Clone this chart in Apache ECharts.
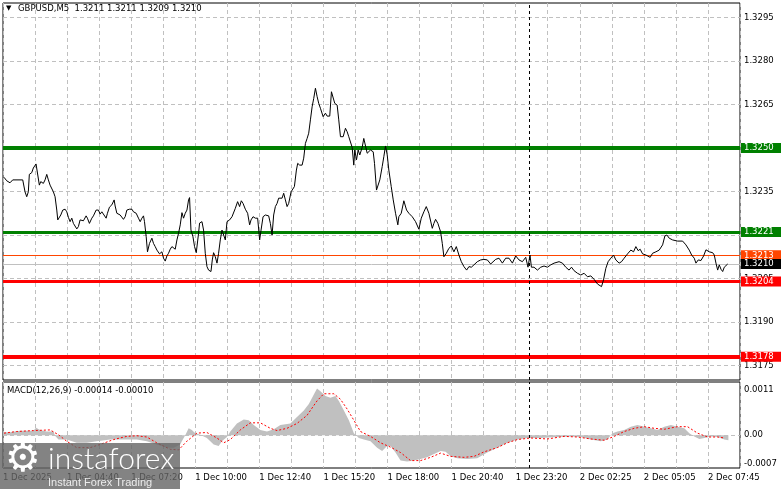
<!DOCTYPE html>
<html><head><meta charset="utf-8">
<script src="https://cdn.jsdelivr.net/npm/echarts@6/dist/echarts.min.js"></script>
<style>html,body{margin:0;padding:0;background:#fff}#c{width:781px;height:489px}</style>
</head><body><div id="c"></div>
<script>
// ---- data ----
const symbolTitle = 'GBPUSD,M5  1.3211 1.3211 1.3209 1.3210';
const macdTitle = 'MACD(12,26,9) -0.00014 -0.00010';
const timeLabels = ['1 Dec 2025','1 Dec 04:40','1 Dec 07:20','1 Dec 10:00','1 Dec 12:40','1 Dec 15:20','1 Dec 18:00','1 Dec 20:40','1 Dec 23:20','2 Dec 02:25','2 Dec 05:05','2 Dec 07:45'];
const barsPerLabel = 32;
const totalBars = 368;
const separatorBar = 263;
const priceLabels = [1.3175,1.3190,1.3205,1.3220,1.3235,1.3250,1.3265,1.3280,1.3295];
const macdLabels = [0.0011, 0.00, -0.0007];

const closeBar = [0,1.35,3,4.35,9.35,10.5,11.35,12.15,12.65,13.85,14.65,16,16.65,17.65,18.35,19.65,20.5,21.35,22.15,23,23.85,24.65,25.5,26.35,26.85,27.65,28.35,29.35,30.5,31.35,32.15,33,33.85,34.65,35.5,36.35,37.15,38,38.85,39.65,41,41.65,42.65,43.85,44.65,46,47.15,48,48.85,49.65,51,51.65,52.65,53.85,55,55.5,56.35,57.15,58,58.85,59.65,60.5,61.35,62.65,63.85,64.65,66,67.15,68,68.85,69.65,70.15,71,71.65,72.65,73.85,74.65,75.5,76.35,77.65,78.85,79.65,80.5,81.35,82.15,83,83.85,84.65,85.5,86.35,87.15,88,88.85,89.65,90.5,91.35,92.15,92.65,93.35,94.35,95.15,96,97.15,97.65,98.85,99.65,100.5,101.35,102.15,103.35,104,104.65,105.5,106.35,107.15,108,108.85,109.65,110.5,111.35,112.65,113.85,114.65,115.5,116.65,117.65,118.5,119.35,120.5,121.65,122.65,123.35,124.35,125.5,126.65,127.65,128.35,129.35,130.5,132.15,133,133.85,134.65,135.5,136.35,137.15,138,138.85,139.65,140.5,141.35,142.15,143.35,144.15,145,146,146.65,147.65,148.85,149.65,150.5,151.35,152.15,153,153.85,154.65,155.5,156.35,157.15,158,159.35,160.5,161.35,162.65,163.5,164.35,165.15,166.35,167.15,168,169.35,170.5,171.35,172.15,173,173.85,174.65,175.15,176,176.85,177.65,178.85,179.65,180.5,181.35,182.15,183,184.35,185,186,186.65,187.65,188.85,189.65,190.5,191.35,192.15,193.35,194.35,195.5,196.65,197.15,198.35,199.65,201,202.15,203.85,205.5,207.15,208.35,209.65,210.85,212.15,213.85,214.65,215.5,216.65,218,218.85,219.65,220.85,222.15,223.35,224.65,225.85,227.15,228.35,229.65,231,232.15,233.35,234.65,236.35,238,239.65,241.35,243,245.5,247.15,248.85,250.5,252.15,253.85,255.5,257.15,258.85,260.5,261.65,262.65,263.35,264.65,266.35,268,269.65,271.35,273,274.65,277.15,278.85,280.5,282.15,283.35,284.65,286.35,288,289.65,291.35,293,294.65,296.35,298.35,299.35,300.5,301.65,303,304.35,305.5,307.15,308.35,309.65,311.35,313,314.35,315.5,316.65,317.65,318.85,320.5,322.65,323.85,325.5,327.15,328.85,330,331,332.15,333.85,336.35,338.85,340.5,342.15,343.35,344.65,345.5,346.65,348,349.35,350.5,352.15,353.85,354.65,355.5,356.35,357.15,358,358.85,359.65,361.35];
const closeVal = [1.32399,1.32387,1.32380,1.32390,1.32390,1.32349,1.32332,1.32349,1.32409,1.32415,1.32431,1.32445,1.32447,1.32372,1.32384,1.32378,1.32390,1.32409,1.32390,1.32372,1.32367,1.32349,1.32332,1.32286,1.32252,1.32252,1.32269,1.32286,1.32289,1.32280,1.32261,1.32246,1.32258,1.32240,1.32235,1.32221,1.32229,1.32252,1.32258,1.32249,1.32266,1.32258,1.32240,1.32258,1.32266,1.32286,1.32286,1.32272,1.32280,1.32280,1.32258,1.32275,1.32296,1.32304,1.32321,1.32300,1.32275,1.32280,1.32269,1.32263,1.32254,1.32263,1.32286,1.32289,1.32289,1.32280,1.32275,1.32258,1.32246,1.32258,1.32266,1.32246,1.32194,1.32142,1.32171,1.32189,1.32171,1.32160,1.32148,1.32135,1.32142,1.32120,1.32110,1.32128,1.32137,1.32151,1.32160,1.32166,1.32151,1.32183,1.32206,1.32235,1.32277,1.32258,1.32275,1.32286,1.32321,1.32329,1.32217,1.32194,1.32160,1.32139,1.32206,1.32241,1.32246,1.32217,1.32137,1.32091,1.32079,1.32074,1.32114,1.32139,1.32125,1.32103,1.32137,1.32183,1.32217,1.32215,1.32183,1.32246,1.32252,1.32263,1.32269,1.32292,1.32315,1.32298,1.32318,1.32309,1.32289,1.32275,1.32235,1.32252,1.32263,1.32258,1.32258,1.32183,1.32217,1.32263,1.32269,1.32266,1.32240,1.32200,1.32269,1.32298,1.32309,1.32327,1.32332,1.32327,1.32344,1.32321,1.32298,1.32309,1.32349,1.32349,1.32367,1.32424,1.32447,1.32441,1.32441,1.32465,1.32516,1.32533,1.32551,1.32597,1.32642,1.32671,1.32706,1.32677,1.32654,1.32637,1.32608,1.32620,1.32610,1.32610,1.32694,1.32698,1.32654,1.32648,1.32597,1.32539,1.32539,1.32568,1.32556,1.32539,1.32533,1.32502,1.32441,1.32493,1.32459,1.32493,1.32476,1.32502,1.32533,1.32533,1.32482,1.32476,1.32493,1.32487,1.32447,1.32355,1.32349,1.32390,1.32436,1.32470,1.32507,1.32476,1.32424,1.32367,1.32321,1.32275,1.32235,1.32263,1.32275,1.32318,1.32286,1.32275,1.32263,1.32246,1.32220,1.32258,1.32280,1.32298,1.32275,1.32223,1.32240,1.32254,1.32240,1.32211,1.32171,1.32125,1.32137,1.32154,1.32162,1.32142,1.32160,1.32131,1.32108,1.32091,1.32079,1.32091,1.32089,1.32097,1.32108,1.32114,1.32116,1.32114,1.32100,1.32116,1.32120,1.32103,1.32120,1.32120,1.32103,1.32128,1.32114,1.32108,1.32123,1.32089,1.32131,1.32089,1.32089,1.32079,1.32089,1.32093,1.32089,1.32097,1.32103,1.32108,1.32103,1.32089,1.32079,1.32089,1.32077,1.32068,1.32062,1.32068,1.32056,1.32059,1.32047,1.32031,1.32022,1.32045,1.32085,1.32108,1.32120,1.32131,1.32114,1.32103,1.32108,1.32120,1.32135,1.32148,1.32142,1.32160,1.32146,1.32151,1.32135,1.32131,1.32123,1.32137,1.32142,1.32148,1.32166,1.32197,1.32200,1.32189,1.32183,1.32179,1.32179,1.32166,1.32148,1.32131,1.32120,1.32103,1.32114,1.32112,1.32128,1.32149,1.32142,1.32139,1.32131,1.32103,1.32079,1.32097,1.32082,1.32074,1.32089,1.32100];

const histBar = [0,3,8,14.7,16,18,21.3,24.7,25.5,27.2,31.3,36.3,41.3,46.3,53,61.3,66.3,71.3,76.3,81.3,84.7,88,88.8,90.5,92.2,93.8,95.5,98,101.3,104.7,107.2,108.8,111.3,113,116.3,119.7,122.2,124.7,128,131.3,134.7,138,143,146.3,149.7,152.2,154.7,156.3,158,160.5,163,165.5,167.2,169.7,172.2,174.7,177.2,179.7,183,186.3,188.8,191.3,193,195.5,198,201.3,204.7,208,211.3,214.7,218,220.5,223,226.3,231.3,236.3,241.3,246.3,251.3,256.3,261.3,268,276.3,283,288,293,298,301.3,303.8,306.3,309.7,313,316.3,319.7,323,326.3,329.7,333,336.3,339.7,342.2,344.7,347.2,349.7,353,356.3,359.7,361.7];
const histVal = [0.00007,0.00007,0.00011,0.00011,0.000185,0.00013,0.00009,0.00009,-0.00001,-0.000106,-0.000106,-0.000185,-0.000185,-0.000146,-0.000106,-0.000106,-0.000106,-0.000146,-0.000225,-0.000303,-0.000303,-0.000225,-0.000146,0,0.00017,0.00013,0.00005,0.00001,-0.000067,-0.000225,-0.000264,-0.000146,-0.00004,0.00009,0.000288,0.000382,0.000366,0.000248,0.00013,0.00009,0.000146,0.000248,0.000288,0.000445,0.000603,0.00076,0.000997,0.001139,0.001076,0.000957,0.000918,0.000957,0.000839,0.000603,0.000366,0.00005,-0.000067,-0.000106,-0.000146,-0.000303,-0.000382,-0.000264,-0.00026,-0.00042,-0.000619,-0.000642,-0.000619,-0.000579,-0.00054,-0.000461,-0.000382,-0.000406,-0.000516,-0.000563,-0.000579,-0.000563,-0.000422,-0.000303,-0.000185,-0.000106,-0.000067,-0.000067,-0.000043,-0.000028,-0.000043,-0.000106,-0.000146,-0.000106,0.000051,0.000091,0.00013,0.000209,0.000248,0.000209,0.000169,0.00013,0.000209,0.000248,0.000209,0.000169,0.000051,-0.000028,-0.000091,-0.000067,-0.000028,-0.000043,-0.000106,-0.000122];

const sigBar = [0,6.3,14.7,23,27.2,31.3,36.3,43,48,54.7,61.3,66.3,71.3,76.3,83,87.2,91.3,96.3,101.3,106.3,109.7,113,118,123,128,133,136.3,141.3,146.3,151.3,156.3,159.7,164.7,168,171.3,174.7,178,183,188,193,198,203,208,213,218,223,229.7,234.7,239.7,246.3,251.3,256.3,263,271.3,279.7,286.3,293,299.7,304.7,309.7,314.7,319.7,324.7,329.7,336.3,341.3,346.3,351.3,356.3,359.7];
const sigVal = [0.000051,0.000091,0.000114,0.00013,0.000012,-0.000146,-0.000303,-0.000303,-0.000225,-0.000106,-0.000028,-0.000012,-0.000043,-0.000185,-0.000343,-0.000359,-0.000146,0.000051,0.000067,-0.000067,-0.000185,-0.000106,0.00013,0.000303,0.000303,0.000169,0.000114,0.000169,0.000288,0.000485,0.000839,0.001013,0.001013,0.000879,0.000642,0.000366,0.000091,-0.000028,-0.000185,-0.00029,-0.000422,-0.000619,-0.000619,-0.00054,-0.000437,-0.000516,-0.00054,-0.000516,-0.000406,-0.000303,-0.000185,-0.000106,-0.000067,-0.000091,-0.000028,-0.000043,-0.000091,-0.000122,-0.000028,0.000091,0.000169,0.000209,0.000169,0.000146,0.000209,0.000209,0.000051,-0.000043,-0.000043,-0.000067];

const levelValues = [1.3250, 1.3221, 1.3213, 1.3210, 1.3204, 1.3178];

// ---- styles ----
const FONT = 'DejaVu Sans';
const FS = 8.5;
const levelStyle = [
  {line:'#008000', width:4, box:'#008000', text:'#fff'},
  {line:'#008000', width:3, box:'#008000', text:'#fff'},
  {line:'#ff4500', width:1, box:'#ff4500', text:'#fff'},
  {line:'#c0c0c0', width:1, box:'#000000', text:'#fff'},
  {line:'#ff0000', width:3, box:'#ff0000', text:'#fff'},
  {line:'#ff0000', width:4, box:'#ff0000', text:'#fff'}
];
const gridDash = [4,3];
const pos = b => b + 0.5;

const near = (a, b) => Math.abs(a - b) < 1e-7;
const levelLines = levelValues.map((v, k) => ({
  yAxis: v,
  lineStyle: {color: levelStyle[k].line, width: levelStyle[k].width, type: 'solid'},
  label: {show: true, position: 'end', distance: 1, formatter: v.toFixed(4),
    backgroundColor: levelStyle[k].box, color: levelStyle[k].text,
    padding: [0, 12, 0, 3], lineHeight: 10, fontSize: FS, fontFamily: FONT}
}));

const chart = echarts.init(document.getElementById('c'));
chart.setOption({
  animation: false,
  backgroundColor: '#fff',
  grid: [
    {left: 3, right: 41, top: 3, height: 377, show: true, borderColor: '#000', borderWidth: 1},
    {left: 3, right: 41, top: 382, height: 86, show: true, borderColor: '#000', borderWidth: 1}
  ],
  xAxis: [
    {type: 'value', gridIndex: 0, min: 0, max: totalBars, interval: 16,
      axisLine: {show: false}, axisTick: {show: false}, axisLabel: {show: false},
      splitLine: {show: true, lineStyle: {color: '#c0c0c0', type: gridDash, width: 1}}},
    {type: 'value', gridIndex: 1, min: 0, max: totalBars, interval: 16,
      axisLine: {show: false}, axisTick: {show: false},
      axisLabel: {show: true, align: 'left', margin: 5, color: '#000', fontSize: FS, fontFamily: FONT,
        formatter: v => (v % barsPerLabel === 0 && timeLabels[v / barsPerLabel]) ? timeLabels[v / barsPerLabel] : ''},
      splitLine: {show: true, lineStyle: {color: '#c0c0c0', type: gridDash, width: 1}}}
  ],
  yAxis: [
    {type: 'value', gridIndex: 0, position: 'right', min: 1.3170, max: 1.3300, interval: 0.0005,
      axisLine: {show: false}, axisTick: {show: false},
      axisLabel: {margin: 4, color: '#000', fontSize: FS, fontFamily: FONT,
        formatter: v => priceLabels.some(p => near(p, v)) ? v.toFixed(4) : ''},
      splitLine: {show: true, lineStyle: {color: ['rgba(0,0,0,0)', '#c0c0c0', 'rgba(0,0,0,0)'], type: gridDash, width: 1}}},
    {type: 'value', gridIndex: 1, position: 'right', min: -0.0008, max: 0.0013, interval: 0.0001,
      axisLine: {show: false}, axisTick: {show: false},
      axisLabel: {margin: 4, color: '#000', fontSize: FS, fontFamily: FONT,
        formatter: v => {
          const m = macdLabels.find(p => near(p, v));
          if (m === undefined) return '';
          return m === 0 ? '0.00' : m.toFixed(4);
        }},
      splitLine: {show: false}}
  ],
  series: [
    {type: 'line', xAxisIndex: 0, yAxisIndex: 0, showSymbol: false, symbol: 'none',
      lineStyle: {color: '#000', width: 1}, z: 5,
      data: closeBar.map((b, k) => [pos(b), closeVal[k]]),
      markLine: {silent: true, symbol: ['none', 'none'], animation: false, precision: 6,
        data: levelLines.concat([{xAxis: separatorBar, lineStyle: {color: '#000', type: [3, 3], width: 1}, label: {show: false}}])}
    },
    {type: 'line', xAxisIndex: 1, yAxisIndex: 1, showSymbol: false, symbol: 'none',
      lineStyle: {width: 0, opacity: 0}, areaStyle: {color: '#c0c0c0', opacity: 1, origin: 'auto'},
      data: histBar.map((b, k) => [pos(b), histVal[k]]),
      markLine: {silent: true, symbol: ['none', 'none'], animation: false, precision: 6,
        data: [{yAxis: 0, lineStyle: {color: '#c0c0c0', type: gridDash, width: 1}, label: {show: false}},
               {xAxis: separatorBar, lineStyle: {color: '#000', type: [3, 3], width: 1}, label: {show: false}}]}
    },
    {type: 'line', xAxisIndex: 1, yAxisIndex: 1, showSymbol: false, symbol: 'none',
      lineStyle: {color: '#ff0000', width: 1, type: [2, 2]}, z: 6,
      data: sigBar.map((b, k) => [pos(b), sigVal[k]])}
  ],
  graphic: [
    {type: 'text', left: 6, top: 5, z: 50, style: {text: '▼', fontSize: 7, fill: '#000', fontFamily: FONT}},
    {type: 'text', left: 18, top: 4, z: 50, style: {text: symbolTitle, fontSize: FS, fill: '#000', fontFamily: FONT}},
    {type: 'text', left: 7, top: 386, z: 50, style: {text: macdTitle, fontSize: FS, fill: '#000', fontFamily: FONT}},
    {type: 'rect', z: 90, shape: {x: 0, y: 443, width: 180, height: 46}, style: {fill: 'rgba(100,100,100,0.8)'}},
    {type: 'text', z: 91, x: 5, y: 441, style: {text: '⚙', fontSize: 40, fill: '#fff', fontFamily: FONT}},
    {type: 'text', z: 91, x: 48, y: 444, style: {text: 'instaforex', fontSize: 30, fontWeight: 300, fill: '#fff', fontFamily: 'Lato'}},
    {type: 'text', z: 91, x: 48, y: 477, style: {text: 'Instant Forex Trading', fontSize: 11, fill: 'rgba(255,255,255,0.85)', fontFamily: 'Liberation Sans'}}
  ]
});
</script></body></html>
